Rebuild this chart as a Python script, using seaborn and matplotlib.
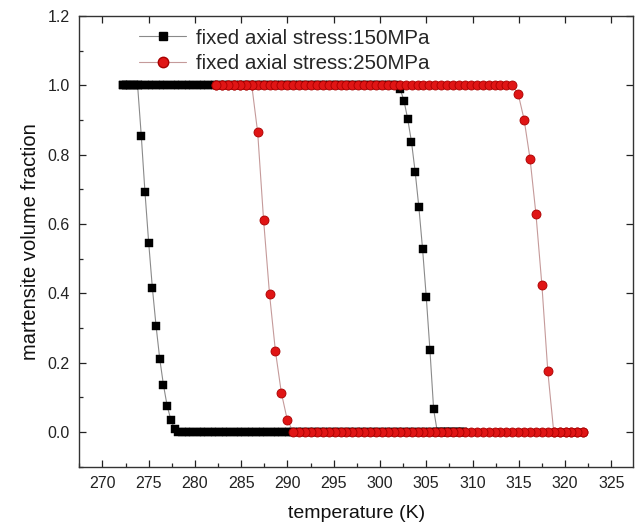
import matplotlib
matplotlib.use("Agg")
import matplotlib.pyplot as plt
import seaborn as sns
import pandas as pd
from matplotlib.lines import Line2D
from matplotlib.ticker import MultipleLocator

# ---------------- data ----------------
# 150 MPa: temperature grid (K)
temp_150 = [
    272.2, 272.6, 273.0, 273.4, 273.8, 274.2, 274.6, 275.0, 275.4, 275.8,
    276.2, 276.6, 277.0, 277.4, 277.8, 278.2, 278.6, 279.0, 279.4, 279.8,
    280.2, 280.6, 281.0, 281.4, 281.8, 282.2, 282.6, 283.0, 283.4, 283.8,
    284.2, 284.6, 285.0, 285.4, 285.8, 286.2, 286.6, 287.0, 287.4, 287.8,
    288.2, 288.6, 289.0, 289.4, 289.8, 290.2, 290.6, 291.0, 291.4, 291.8,
    292.2, 292.6, 293.0, 293.4, 293.8, 294.2, 294.6, 295.0, 295.4, 295.8,
    296.2, 296.6, 297.0, 297.4, 297.8, 298.2, 298.6, 299.0, 299.4, 299.8,
    300.2, 300.6, 301.0, 301.4, 301.8, 302.2, 302.6, 303.0, 303.4, 303.8,
    304.2, 304.6, 305.0, 305.4, 305.8, 306.2, 306.6, 307.0, 307.4, 307.8,
    308.2, 308.6, 309.0,
]
# heating branch (martensite -> austenite)
heat_150 = [
    1.0, 1.0, 1.0, 1.0, 1.0, 1.0, 1.0, 1.0, 1.0, 1.0,
    1.0, 1.0, 1.0, 1.0, 1.0, 1.0, 1.0, 1.0, 1.0, 1.0,
    1.0, 1.0, 1.0, 1.0, 1.0, 1.0, 1.0, 1.0, 1.0, 1.0,
    1.0, 1.0, 1.0, 1.0, 1.0, 1.0, 1.0, 1.0, 1.0, 1.0,
    1.0, 1.0, 1.0, 1.0, 1.0, 1.0, 1.0, 1.0, 1.0, 1.0,
    1.0, 1.0, 1.0, 1.0, 1.0, 1.0, 1.0, 1.0, 1.0, 1.0,
    1.0, 1.0, 1.0, 1.0, 1.0, 1.0, 1.0, 1.0, 1.0, 1.0,
    1.0, 1.0, 1.0, 1.0, 1.0, 0.988, 0.955, 0.902, 0.838, 0.751,
    0.649, 0.529, 0.390, 0.236, 0.065, 0.0, 0.0, 0.0, 0.0, 0.0,
    0.0, 0.0, 0.0,
]
# cooling branch (austenite -> martensite)
cool_150 = [
    1.0, 1.0, 1.0, 1.0, 1.0, 0.854, 0.691, 0.546, 0.415, 0.305,
    0.210, 0.135, 0.075, 0.035, 0.010, 0.0, 0.0, 0.0, 0.0, 0.0,
    0.0, 0.0, 0.0, 0.0, 0.0, 0.0, 0.0, 0.0, 0.0, 0.0,
    0.0, 0.0, 0.0, 0.0, 0.0, 0.0, 0.0, 0.0, 0.0, 0.0,
    0.0, 0.0, 0.0, 0.0, 0.0, 0.0, 0.0, 0.0, 0.0, 0.0,
    0.0, 0.0, 0.0, 0.0, 0.0, 0.0, 0.0, 0.0, 0.0, 0.0,
    0.0, 0.0, 0.0, 0.0, 0.0, 0.0, 0.0, 0.0, 0.0, 0.0,
    0.0, 0.0, 0.0, 0.0, 0.0, 0.0, 0.0, 0.0, 0.0, 0.0,
    0.0, 0.0, 0.0, 0.0, 0.0, 0.0, 0.0, 0.0, 0.0, 0.0,
    0.0, 0.0, 0.0,
]

# 250 MPa: temperature grid (K)
temp_250 = [
    282.30, 282.94, 283.58, 284.22, 284.86, 285.50, 286.14, 286.78, 287.42, 288.06,
    288.70, 289.34, 289.98, 290.62, 291.26, 291.90, 292.54, 293.18, 293.82, 294.46,
    295.10, 295.74, 296.38, 297.02, 297.66, 298.30, 298.94, 299.58, 300.22, 300.86,
    301.50, 302.14, 302.78, 303.42, 304.06, 304.70, 305.34, 305.98, 306.62, 307.26,
    307.90, 308.54, 309.18, 309.82, 310.46, 311.10, 311.74, 312.38, 313.02, 313.66,
    314.30, 314.94, 315.58, 316.22, 316.86, 317.50, 318.14, 318.78, 319.42, 320.06,
    320.70, 321.34, 321.98,
]
heat_250 = [
    1.0, 1.0, 1.0, 1.0, 1.0, 1.0, 1.0, 1.0, 1.0, 1.0,
    1.0, 1.0, 1.0, 1.0, 1.0, 1.0, 1.0, 1.0, 1.0, 1.0,
    1.0, 1.0, 1.0, 1.0, 1.0, 1.0, 1.0, 1.0, 1.0, 1.0,
    1.0, 1.0, 1.0, 1.0, 1.0, 1.0, 1.0, 1.0, 1.0, 1.0,
    1.0, 1.0, 1.0, 1.0, 1.0, 1.0, 1.0, 1.0, 1.0, 1.0,
    1.0, 0.975, 0.901, 0.788, 0.628, 0.424, 0.175, 0.0, 0.0, 0.0,
    0.0, 0.0, 0.0,
]
cool_250 = [
    1.0, 1.0, 1.0, 1.0, 1.0, 1.0, 1.0, 0.864, 0.611, 0.398,
    0.233, 0.113, 0.035, 0.0, 0.0, 0.0, 0.0, 0.0, 0.0, 0.0,
    0.0, 0.0, 0.0, 0.0, 0.0, 0.0, 0.0, 0.0, 0.0, 0.0,
    0.0, 0.0, 0.0, 0.0, 0.0, 0.0, 0.0, 0.0, 0.0, 0.0,
    0.0, 0.0, 0.0, 0.0, 0.0, 0.0, 0.0, 0.0, 0.0, 0.0,
    0.0, 0.0, 0.0, 0.0, 0.0, 0.0, 0.0, 0.0, 0.0, 0.0,
    0.0, 0.0, 0.0,
]

labels = ["fixed axial stress:150MPa", "fixed axial stress:250MPa"]
x_ticks = [270, 275, 280, 285, 290, 295, 300, 305, 310, 315, 320, 325]
y_ticks = [0.0, 0.2, 0.4, 0.6, 0.8, 1.0, 1.2]


def loop_frame(temps, heat, cool):
    # heating branch in ascending T, then cooling branch back down
    t = list(temps) + list(temps)[::-1]
    f = list(heat) + list(cool)[::-1]
    return pd.DataFrame({"T": t, "f": f})


df150 = loop_frame(temp_150, heat_150, cool_150)
df250 = loop_frame(temp_250, heat_250, cool_250)

# ---------------- style ----------------
sns.set_style("ticks")
plt.rcParams["font.family"] = ["Liberation Sans", "DejaVu Sans"]
plt.rcParams["axes.linewidth"] = 1.0

fig = plt.figure(figsize=(6.38, 5.28), dpi=100)
ax = fig.add_axes([0.1243, 0.1161, 0.8679, 0.8536])

line_150 = "#8a8a8a"
line_250 = "#c59a9a"
red = "#e01515"
red_edge = "#a80000"

sns.lineplot(data=df150, x="T", y="f", sort=False, estimator=None,
             color=line_150, lw=0.8, ax=ax, legend=False)
sns.scatterplot(data=df150, x="T", y="f", marker="s", s=34, color="black",
                edgecolor="black", linewidth=0.3, ax=ax, legend=False, zorder=3)
sns.lineplot(data=df250, x="T", y="f", sort=False, estimator=None,
             color=line_250, lw=0.8, ax=ax, legend=False)
sns.scatterplot(data=df250, x="T", y="f", marker="o", s=42, color=red,
                edgecolor=red_edge, linewidth=0.6, ax=ax, legend=False, zorder=4)

ax.set_xlim(267.5, 327.35)
ax.set_ylim(-0.1, 1.2)
ax.set_xticks(x_ticks)
ax.set_yticks(y_ticks)
ax.set_yticklabels([f"{v:.1f}" for v in y_ticks])
ax.xaxis.set_minor_locator(MultipleLocator(2.5))
ax.yaxis.set_minor_locator(MultipleLocator(0.1))

ax.tick_params(which="major", direction="in", length=5, width=0.9,
               top=True, right=True, labelsize=11.5, colors="#222222", pad=7)
ax.tick_params(which="minor", direction="in", length=3, width=0.9,
               top=False, right=False)
for sp in ax.spines.values():
    sp.set_color("#333333")
    sp.set_linewidth(1.0)

ax.set_xlabel("temperature (K)", fontsize=14, color="#111111", labelpad=10)
ax.set_ylabel("martensite volume fraction", fontsize=14.5, color="#111111", labelpad=5)

handles = [
    Line2D([], [], color=line_150, lw=0.8, marker="s", markersize=6,
           markerfacecolor="black", markeredgecolor="black"),
    Line2D([], [], color=line_250, lw=0.8, marker="o", markersize=7.5,
           markerfacecolor=red, markeredgecolor=red_edge),
]
ax.legend(handles, labels, loc="upper left", bbox_to_anchor=(0.108, 0.972),
          frameon=False, fontsize=14.8, handlelength=2.3, handletextpad=0.45,
          labelspacing=0.32, borderpad=0.0, borderaxespad=0.0)

fig.savefig("out.png", dpi=100, facecolor="white")
